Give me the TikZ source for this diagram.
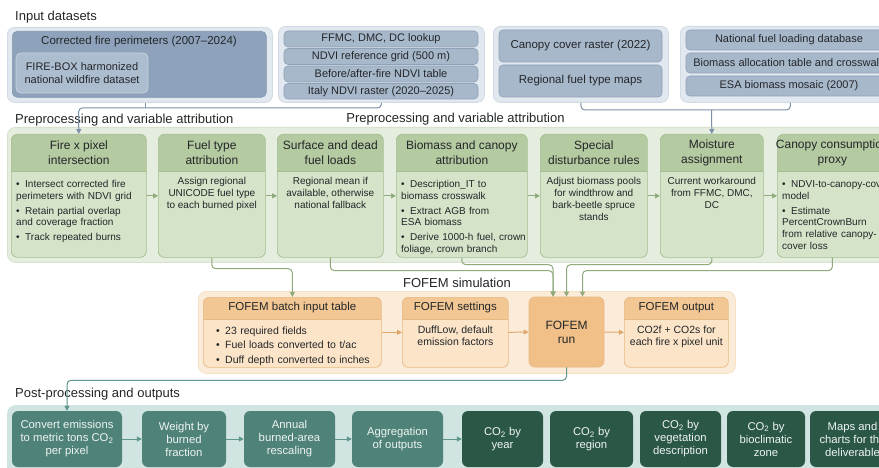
\documentclass[tikz,border=0pt]{standalone}
\usepackage{fontspec}
\setmainfont{Liberation Sans}
\usetikzlibrary{arrows.meta,calc}

\definecolor{txt}{HTML}{232629}
\definecolor{inpanel}{HTML}{E2E8EF}
\definecolor{inpanelb}{HTML}{D2DAE3}
\definecolor{indark}{HTML}{8EA3BB}
\definecolor{indarkb}{HTML}{8095AD}
\definecolor{inmid}{HTML}{A8B8CB}
\definecolor{inmidb}{HTML}{8EA1B7}
\definecolor{inlight}{HTML}{ADBDD0}
\definecolor{inlightb}{HTML}{C7D2DE}
\definecolor{bconn}{HTML}{7D91A8}
\definecolor{gpanel}{HTML}{E5EDDF}
\definecolor{gpanelb}{HTML}{D6E2CC}
\definecolor{ghead}{HTML}{B4CAA0}
\definecolor{gbody}{HTML}{D5E3C8}
\definecolor{gborder}{HTML}{A5BD90}
\definecolor{gconn}{HTML}{8FAA7B}
\definecolor{opanel}{HTML}{FBEBD9}
\definecolor{opanelb}{HTML}{F6E0C6}
\definecolor{ohead}{HTML}{F2C794}
\definecolor{obody}{HTML}{FBE4C8}
\definecolor{oborder}{HTML}{E8B980}
\definecolor{orun}{HTML}{F0C088}
\definecolor{oconn}{HTML}{E0A66C}
\definecolor{tpanel}{HTML}{D0E4E1}
\definecolor{tmid}{HTML}{4F8379}
\definecolor{tdark}{HTML}{2B5747}
\definecolor{tconn}{HTML}{5E958C}
\definecolor{ttxt}{HTML}{EEF4F2}

\newcommand\cornerbox[6]{\node[#1, anchor=north west, inner sep=0pt, minimum width={#5-#3}, minimum height={#6-#4}] (#2) at (#3,#4) {};}
\newcommand\tbox[7][]{\node[#1, anchor=center, inner sep=0pt, align=center, minimum width={#5-#3}, minimum height={#6-#4}] (#2) at ({(#3+#5)/2},{(#4+#6)/2}) {#7};}
\newcommand\bul[1]{\par\hangindent=9pt\hangafter=1\noindent\makebox[9pt][l]{\textbullet}#1}

\tikzset{
 ttl/.style={font=\fontsize{13}{15}\selectfont, inner sep=0pt, text=txt},
 inpanelS/.style={fill=inpanel, draw=inpanelb, line width=0.8pt, rounded corners=7pt},
 indarkS/.style={fill=indark, draw=indarkb, line width=0.6pt, rounded corners=5pt},
 inmidS/.style={fill=inmid, draw=inmidb, line width=0.6pt, rounded corners=4pt, font=\fontsize{11}{13}\selectfont, text=txt},
 inlightS/.style={fill=inlight, draw=inlightb, line width=0.8pt, rounded corners=5pt, font=\fontsize{11}{13}\selectfont, text=txt},
 intxt/.style={font=\fontsize{11.5}{13.5}\selectfont, inner sep=0pt, text=txt},
 gpanelS/.style={fill=gpanel, draw=gpanelb, line width=0.8pt, rounded corners=8pt},
 gcardS/.style={fill=gbody, draw=gborder, line width=0.7pt, rounded corners=6pt,
   path picture={\fill[ghead, sharp corners] (path picture bounding box.north west) rectangle ([yshift=-37pt]path picture bounding box.north east);
     \draw[gborder, line width=0.6pt, sharp corners] ([yshift=-37pt]path picture bounding box.north west) -- ([yshift=-37pt]path picture bounding box.north east);}},
 ghtext/.style={font=\fontsize{12}{15}\selectfont, align=center, inner sep=0pt, text=txt},
 gbtext/.style={font=\fontsize{10}{12}\selectfont, align=center, inner sep=0pt, text=txt, anchor=north},
 gblist/.style={font=\fontsize{10}{11.7}\selectfont, align=left, inner sep=0pt, text=txt, anchor=north west, text width=200pt, execute at begin node={\setlength{\parskip}{3pt}}},
 opanelS/.style={fill=opanel, draw=opanelb, line width=0.8pt, rounded corners=8pt},
 ocardS/.style={fill=obody, draw=oborder, line width=0.7pt, rounded corners=6pt,
   path picture={\fill[ohead, sharp corners] (path picture bounding box.north west) rectangle ([yshift=-22pt]path picture bounding box.north east);
     \draw[oborder, line width=0.6pt, sharp corners] ([yshift=-22pt]path picture bounding box.north west) -- ([yshift=-22pt]path picture bounding box.north east);}},
 orunS/.style={fill=orun, draw=oborder, line width=0.7pt, rounded corners=6pt, font=\fontsize{12}{14}\selectfont, text=txt},
 ohtext/.style={font=\fontsize{11.5}{14}\selectfont, align=center, inner sep=0pt, text=txt},
 obtext/.style={font=\fontsize{10.5}{12.5}\selectfont, align=center, inner sep=0pt, text=txt, anchor=north},
 oblist/.style={font=\fontsize{10.5}{12.3}\selectfont, align=left, inner sep=0pt, text=txt, anchor=north west, text width=200pt, execute at begin node={\setlength{\parskip}{2pt}}},
 tpanelS/.style={fill=tpanel, draw=none, rounded corners=8pt},
 tmidS/.style={fill=tmid, draw=none, rounded corners=6pt, font=\fontsize{11.3}{13}\selectfont, text=ttxt},
 tdarkS/.style={fill=tdark, draw=none, rounded corners=6pt, font=\fontsize{11.3}{13}\selectfont, text=ttxt},
 tip/.style={-{Triangle[length=5pt,width=5pt]}},
 bline/.style={draw=bconn, line width=1pt, rounded corners=4pt},
 gline/.style={draw=gconn, line width=1pt, rounded corners=4pt},
 oline/.style={draw=oconn, line width=1pt},
 tline/.style={draw=tconn, line width=1pt, rounded corners=4pt},
}

\begin{document}
\begin{tikzpicture}[x=1pt,y=-1pt]
\path[use as bounding box] (0,0) rectangle (879,468);
\clip (0,0) rectangle (879,468);
\fill[white] (0,0) rectangle (879,468);

% ---------------- Input datasets ----------------
\node[ttl, anchor=west] (t1) at (15,17) {Input datasets};

\cornerbox{inpanelS}{p1}{7}{27}{272}{102}
\cornerbox{indarkS}{cfp}{12}{31}{266}{97}
\node[intxt] (cfpt) at (139,42) {Corrected fire perimeters (2007–2024)};
\tbox[inlightS]{fbx}{16}{53}{148}{93}{FIRE-BOX harmonized\\national wildfire dataset}

\cornerbox{inpanelS}{p2}{278}{26}{484}{102}
\tbox[inmidS]{nd1}{284}{31}{478}{47}{FFMC, DMC, DC lookup}
\tbox[inmidS]{nd2}{284}{48.5}{478}{64.5}{NDVI reference grid (500 m)}
\tbox[inmidS]{nd3}{284}{66}{478}{82}{Before/after-fire NDVI table}
\tbox[inmidS]{nd4}{284}{83.5}{478}{99}{Italy NDVI raster (2020–2025)}

\cornerbox{inpanelS}{p3}{493}{26}{668}{102}
\tbox[inmidS, font=\fontsize{11.5}{13}\selectfont]{ccr}{499}{30}{662}{62}{Canopy cover raster (2022)}
\tbox[inmidS, font=\fontsize{11.5}{13}\selectfont]{rft}{499}{65}{662}{97}{Regional fuel type maps}

\cornerbox{inpanelS}{p4}{680}{26}{900}{102}
\tbox[inmidS]{nfl}{686}{30}{892}{50}{National fuel loading database}
\tbox[inmidS]{bat}{686}{53}{892}{73}{Biomass allocation table and crosswalk}
\tbox[inmidS]{esa}{686}{76}{892}{96}{ESA biomass mosaic (2007)}

% ---------------- Preprocessing ----------------
\node[ttl, anchor=west] (t2) at (15,120) {Preprocessing and variable attribution};
\node[ttl] (t3) at (455.5,119) {Preprocessing and variable attribution};

\cornerbox{gpanelS}{gp}{7}{127}{890}{262}

\cornerbox{gcardS}{fx}{11}{134}{146}{257}
\node[ghtext] (fxh) at ([yshift=-18.5pt]fx.north) {Fire x pixel\\intersection};
\node[gblist] (fxb) at ([xshift=5pt,yshift=-39pt]fx.north west)
 {\bul{Intersect corrected fire\\perimeters with NDVI grid}\bul{Retain partial overlap\\and coverage fraction}\bul{Track repeated burns}};

\cornerbox{gcardS}{ft}{158}{134}{265}{257}
\node[ghtext] (fth) at ([yshift=-18.5pt]ft.north) {Fuel type\\attribution};
\node[gbtext] (ftb) at ([yshift=-43pt]ft.north) {Assign regional\\UNICODE fuel type\\to each burned pixel};

\cornerbox{gcardS}{sd}{277}{134}{383}{257}
\node[ghtext] (sdh) at ([yshift=-18.5pt]sd.north) {Surface and dead\\fuel loads};
\node[gbtext] (sdb) at ([yshift=-43pt]sd.north) {Regional mean if\\available, otherwise\\national fallback};

\cornerbox{gcardS}{bc}{396}{134}{527}{257}
\node[ghtext] (bch) at ([yshift=-18.5pt]bc.north) {Biomass and canopy\\attribution};
\node[gblist] (bcb) at ([xshift=5pt,yshift=-39pt]bc.north west)
 {\bul{Description\_IT to\\biomass crosswalk}\bul{Extract AGB from\\ESA biomass}\bul{Derive 1000-h fuel, crown\\foliage, crown branch}};

\cornerbox{gcardS}{sp}{540}{134}{647}{257}
\node[ghtext] (sph) at ([yshift=-18.5pt]sp.north) {Special\\disturbance rules};
\node[gbtext] (spb) at ([yshift=-43pt]sp.north) {Adjust biomass pools\\for windthrow and\\bark-beetle spruce\\stands};

\cornerbox{gcardS}{ma}{660}{134}{763}{257}
\node[ghtext] (mah) at ([yshift=-18.5pt]ma.north) {Moisture\\assignment};
\node[gbtext] (mab) at ([yshift=-43pt]ma.north) {Current workaround\\from FFMC, DMC,\\DC};

\cornerbox{gcardS}{cc}{777}{134}{887}{257}
\node[ghtext] (cch) at ([yshift=-18.5pt]cc.north) {Canopy consumption\\proxy};
\node[gblist] (ccb) at ([xshift=5pt,yshift=-39pt]cc.north west)
 {\bul{NDVI-to-canopy-cover\\model}\bul{Estimate\\PercentCrownBurn\\from relative canopy-\\cover loss}};

\foreach \a/\b in {fx/ft, ft/sd, sd/bc, bc/sp, sp/ma, ma/cc}
  \draw[gline, tip] (\a.east) -- (\b.west);

% input connectors
\coordinate (j1) at (78.5,108);
\coordinate (j2) at (711.5,110);
\draw[bline] ([xshift=6pt]p1.south) -- ([xshift=6pt]p1.south |- j1);
\draw[bline, tip] (p2.south) |- (j1) -- (fx.north);
\draw[bline] (p3.south) |- (j2) -| (p4.south);
\draw[bline, tip] (j2) -- (ma.north);

% ---------------- FOFEM ----------------
\node[ttl] (t4) at (457,283) {FOFEM simulation};
\cornerbox{opanelS}{op}{198}{291}{735}{373}

\cornerbox{ocardS}{bt}{203}{297}{381}{367}
\node[ohtext] (bth) at ([yshift=-11pt]bt.north) {FOFEM batch input table};
\node[oblist] (btb) at ([xshift=13pt,yshift=-23pt]bt.north west)
 {\bul{23 required fields}\bul{Fuel loads converted to t/ac}\bul{Duff depth converted to inches}};

\cornerbox{ocardS}{os}{402}{297}{508}{367}
\node[ohtext] (osh) at ([yshift=-11pt]os.north) {FOFEM settings};
\node[obtext] (osb) at ([yshift=-28.5pt]os.north) {DuffLow, default\\emission factors};

\tbox[orunS]{run}{529}{297}{604}{367}{FOFEM\\run}

\cornerbox{ocardS}{oo}{624}{297}{728}{367}
\node[ohtext] (ooh) at ([yshift=-11pt]oo.north) {FOFEM output};
\node[obtext] (oob) at ([yshift=-28.5pt]oo.north) {CO2f + CO2s for\\each fire x pixel unit};

\draw[oline, tip] (bt.east) -- (os.west);
\draw[oline, tip] (os.east) -- (run.west);
\draw[oline, tip] (run.east) -- (oo.west);

% green -> orange connectors
\draw[gline, tip] (ft.south) -- ++(0,11) -| (bt.north);
\draw[gline, tip] (sd.south) -- ++(0,13) -| ([xshift=-13.5pt]run.north);
\draw[gline, tip] (bc.south) -- ++(0,7) -| ([xshift=-13.5pt]run.north);
\draw[gline, tip] (ma.south) -- ++(0,7) -| (run.north);
\draw[gline, tip] (cc.south) -- ++(0,13) -| ([xshift=16pt]run.north);

% ---------------- Post-processing ----------------
\node[ttl, anchor=west] (t5) at (15,394) {Post-processing and outputs};
\cornerbox{tpanelS}{tp}{7}{405}{890}{480}

\tbox[tmidS]{cv}{12}{411}{122}{467}{Convert emissions\\to metric tons CO\textsubscript{2}\\per pixel}
\tbox[tmidS]{wb}{142}{411}{226}{467}{Weight by\\burned\\fraction}
\tbox[tmidS]{ar}{244}{411}{335}{467}{Annual\\burned-area\\rescaling}
\tbox[tmidS]{ag}{352}{411}{443}{467}{Aggregation\\of outputs}
\tbox[tdarkS]{cy}{462}{411}{543}{467}{CO\textsubscript{2} by\\year}
\tbox[tdarkS]{cr}{550}{411}{633}{467}{CO\textsubscript{2} by\\region}
\tbox[tdarkS]{cvd}{640}{411}{721}{467}{CO\textsubscript{2} by\\vegetation\\description}
\tbox[tdarkS]{cb}{727}{411}{805}{467}{CO\textsubscript{2} by\\bioclimatic\\zone}
\tbox[tdarkS]{mc}{810}{411}{895}{467}{Maps and\\charts for the\\deliverable}

\foreach \a/\b in {cv/wb, wb/ar, ar/ag, ag/cy}
  \draw[tline, tip] (\a.east) -- (\b.west);

\draw[tline, tip] (run.south) -- ++(0,13) -| (cv.north);
\end{tikzpicture}
\end{document}
